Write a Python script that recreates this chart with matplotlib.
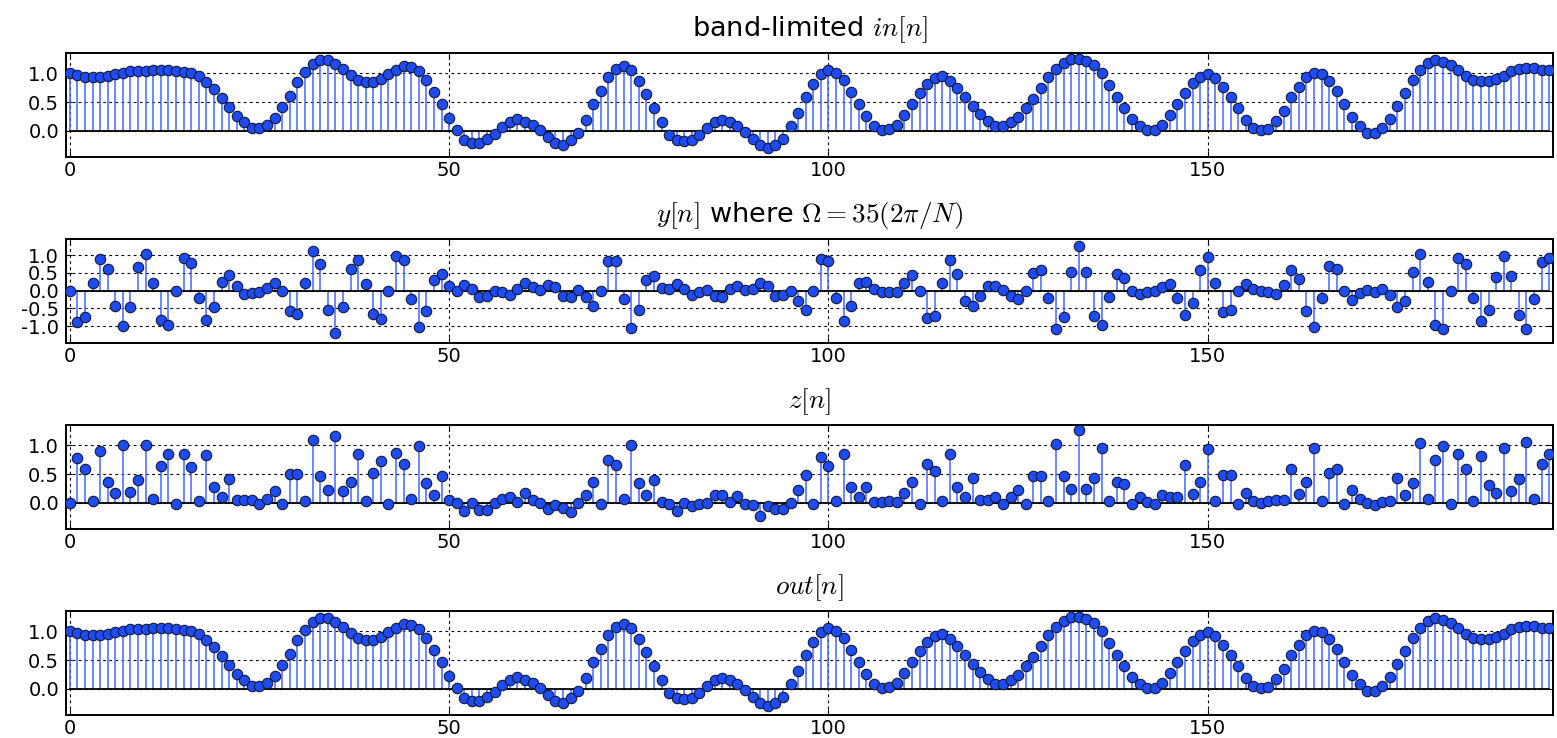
# ==================== #
# === LOAD PACKAGE === #
# ==================== #
import matplotlib
matplotlib.use("Agg")
import matplotlib.pyplot as plt
import numpy as np

# ==================== #
# ======= DATA ======= #
# ==================== #
N = 196
n = np.arange(N)

in_n = [1.01, 0.97, 0.94, 0.93, 0.94, 0.96, 0.99, 1.01, 1.03, 1.04,
        1.04, 1.05, 1.05, 1.05, 1.04, 1.02, 1.00, 0.95, 0.85, 0.73,
        0.57, 0.42, 0.26, 0.15, 0.06, 0.05, 0.10, 0.23, 0.42, 0.61,
        0.84, 1.02, 1.16, 1.23, 1.23, 1.16, 1.08, 0.97, 0.89, 0.84,
        0.85, 0.90, 0.98, 1.05, 1.12, 1.11, 1.04, 0.89, 0.68, 0.46,
        0.22, 0.02, -0.15, -0.20, -0.20, -0.14, -0.05, 0.07, 0.15, 0.20,
        0.16, 0.11, 0.01, -0.11, -0.21, -0.24, -0.16, -0.04, 0.19, 0.46,
        0.70, 0.93, 1.08, 1.13, 1.05, 0.86, 0.64, 0.39, 0.15, -0.07,
        -0.16, -0.18, -0.15, -0.07, 0.05, 0.15, 0.19, 0.16, 0.09, -0.01,
        -0.14, -0.24, -0.29, -0.25, -0.13, 0.08, 0.32, 0.59, 0.81, 0.98,
        1.05, 1.00, 0.88, 0.68, 0.46, 0.26, 0.09, 0.01, 0.03, 0.11,
        0.27, 0.46, 0.66, 0.81, 0.92, 0.95, 0.87, 0.74, 0.59, 0.44,
        0.29, 0.17, 0.09, 0.09, 0.15, 0.25, 0.39, 0.56, 0.74, 0.93,
        1.08, 1.18, 1.24, 1.25, 1.21, 1.14, 1.01, 0.80, 0.59, 0.39,
        0.21, 0.08, 0.01, 0.02, 0.11, 0.27, 0.46, 0.66, 0.83, 0.94,
        0.99, 0.91, 0.77, 0.59, 0.39, 0.19, 0.06, 0.02, 0.03, 0.17,
        0.35, 0.58, 0.77, 0.94, 1.01, 0.99, 0.86, 0.69, 0.46, 0.25,
        0.08, -0.04, -0.04, 0.05, 0.21, 0.44, 0.66, 0.89, 1.06, 1.18,
        1.23, 1.19, 1.14, 1.05, 0.96, 0.89, 0.86, 0.87, 0.90, 0.96,
        1.04, 1.08, 1.09, 1.09, 1.06, 1.05]

y_n = [0.0, -0.89, -0.75, 0.22, 0.89, 0.61, -0.44, -1.00, -0.46, 0.65,
       1.02, 0.22, -0.82, -0.96, 0.0, 0.93, 0.79, -0.21, -0.82, -0.47,
       0.25, 0.44, 0.13, -0.10, -0.06, -0.03, 0.08, 0.21, 0.0, -0.56,
       -0.66, 0.22, 1.11, 0.76, -0.54, -1.18, -0.46, 0.61, 0.86, 0.19,
       -0.65, -0.80, 0.0, 0.98, 0.87, -0.23, -1.03, -0.56, 0.29, 0.48,
       0.14, 0.0, 0.15, 0.04, -0.17, -0.15, 0.0, -0.05, -0.13, 0.05,
       0.21, 0.11, 0.02, 0.15, 0.09, -0.14, -0.17, 0.02, -0.19, -0.43,
       0.0, 0.83, 0.83, -0.24, -1.04, -0.55, 0.29, 0.42, 0.08, 0.04,
       0.19, 0.06, -0.11, -0.03, 0.02, -0.15, -0.17, 0.05, 0.13, 0.01,
       0.04, 0.22, 0.12, -0.14, -0.12, 0.0, -0.28, -0.54, 0.0, 0.90,
       0.82, -0.22, -0.84, -0.44, 0.21, 0.25, 0.04, -0.04, -0.04, -0.03,
       0.22, 0.44, 0.0, -0.76, -0.71, 0.22, 0.87, 0.48, -0.28, -0.43,
       -0.15, 0.13, 0.13, 0.01, -0.16, -0.24, -0.01, 0.50, 0.57, -0.21,
       -1.07, -0.75, 0.53, 1.26, 0.53, -0.71, -0.97, -0.17, 0.48, 0.36,
       0.0, -0.09, -0.04, 0.0, 0.11, 0.20, -0.21, -0.68, -0.34, 0.57,
       0.94, 0.22, -0.61, -0.54, 0.0, 0.20, 0.04, -0.01, -0.03, -0.09,
       0.15, 0.58, 0.33, -0.57, -1.01, -0.21, 0.69, 0.62, 0.0, -0.26,
       -0.07, 0.01, -0.04, 0.06, -0.12, -0.47, -0.28, 0.53, 1.04, 0.25,
       -0.96, -1.07, 0.0, 0.93, 0.76, -0.21, -0.85, -0.54, 0.38, 0.98,
       0.41, -0.68, -1.07, -0.24, 0.81, 0.91]

z_n = [0.0, 0.78, 0.58, 0.04, 0.90, 0.37, 0.17, 1.00, 0.19, 0.40,
       1.00, 0.07, 0.64, 0.84, -0.01, 0.84, 0.62, 0.04, 0.83, 0.28,
       0.11, 0.42, 0.06, 0.06, 0.06, -0.01, 0.07, 0.20, -0.01, 0.51,
       0.51, 0.04, 1.09, 0.46, 0.22, 1.16, 0.20, 0.37, 0.84, 0.04,
       0.52, 0.73, -0.01, 0.87, 0.68, 0.07, 0.98, 0.35, 0.13, 0.47,
       0.05, 0.0, -0.13, 0.0, -0.12, -0.12, 0.0, 0.07, 0.11, 0.01,
       0.17, 0.06, 0.0, -0.10, -0.03, -0.09, -0.15, 0.0, 0.13, 0.37,
       -0.01, 0.75, 0.66, 0.07, 1.00, 0.34, 0.13, 0.40, 0.01, -0.01,
       -0.13, 0.0, -0.06, -0.02, 0.0, 0.13, 0.13, 0.02, 0.12, -0.01,
       -0.03, -0.22, -0.05, -0.10, -0.10, 0.0, 0.22, 0.49, -0.01, 0.80,
       0.64, 0.04, 0.84, 0.27, 0.10, 0.27, 0.01, 0.01, 0.03, 0.02,
       0.17, 0.37, -0.01, 0.67, 0.55, 0.04, 0.84, 0.28, 0.11, 0.44,
       0.06, 0.06, 0.11, -0.02, 0.10, 0.22, -0.01, 0.47, 0.47, 0.04,
       1.02, 0.46, 0.24, 1.26, 0.24, 0.44, 0.96, 0.04, 0.37, 0.33,
       -0.01, 0.10, 0.02, -0.02, 0.13, 0.11, 0.10, 0.66, 0.15, 0.37,
       0.93, 0.04, 0.49, 0.49, -0.01, 0.17, 0.04, 0.0, 0.03, 0.06,
       0.06, 0.58, 0.16, 0.36, 0.96, 0.04, 0.52, 0.58, -0.01, 0.22,
       0.07, 0.0, -0.03, 0.02, 0.04, 0.44, 0.13, 0.35, 1.03, 0.07,
       0.75, 0.98, -0.01, 0.84, 0.58, 0.04, 0.82, 0.32, 0.17, 0.96,
       0.20, 0.42, 1.05, 0.07, 0.67, 0.84]

# out[n] reads the same as in[n] in the figure
out_n = list(in_n)

titles = ["band-limited $in[n]$",
          r"$y[n]$ where $\Omega=35(2\pi/N)$",
          "$z[n]$",
          "$out[n]$"]
signals = [in_n, y_n, z_n, out_n]
ylims = [(-0.45, 1.35), (-1.47, 1.45), (-0.45, 1.35), (-0.45, 1.35)]
yticks = [[0.0, 0.5, 1.0], [-1.0, -0.5, 0.0, 0.5, 1.0], [0.0, 0.5, 1.0], [0.0, 0.5, 1.0]]

# ==================== #
# ====== STYLE ======= #
# ==================== #
plt.rcParams["mathtext.fontset"] = "cm"
plt.rcParams["font.family"] = "DejaVu Sans"

# ==================== #
# ==== FUNCTIONS ===== #
# ==================== #
def plot_signals():
    """Vier Stem-Plots untereinander, wie im alten matplotlib classic Stil."""
    fig = plt.figure(figsize=(15.57, 7.38), dpi=100)
    W, H = 1557.0, 738.0
    for i, (sig, title) in enumerate(zip(signals, titles)):
        top = 53 + 186 * i
        ax = fig.add_axes([66 / W, 1 - (top + 104) / H, 1487 / W, 104 / H])
        markerline, stemlines, baseline = ax.stem(n, sig, basefmt="k-")
        plt.setp(markerline, marker="o", markersize=7.5, markerfacecolor="#1f4cf2",
                 markeredgecolor="#10183a", markeredgewidth=0.8, zorder=3)
        plt.setp(stemlines, color="#4466ff", linewidth=1.1)
        plt.setp(baseline, color="k", linewidth=1.3)
        ax.set_xlim(-0.5, N - 0.5)
        ax.set_ylim(*ylims[i])
        ax.set_xticks([0, 50, 100, 150])
        ax.set_yticks(yticks[i])
        ax.set_yticklabels(["%.1f" % t for t in yticks[i]])
        ax.grid(True, color="k", linestyle=(0, (2.5, 3)), linewidth=0.8)
        ax.set_axisbelow(True)
        ax.tick_params(direction="in", top=True, right=True, labelsize=14,
                       length=4)
        ax.tick_params(axis="x", pad=3)
        ax.tick_params(axis="y", pad=5)
        for sp in ax.spines.values():
            sp.set_linewidth(1.4)
            sp.set_color("k")
        ax.set_title(title, fontsize=19.5, pad=12)
    fig.savefig("out.png", dpi=100)

if __name__ == "__main__":
    plot_signals()
    print("Done")
